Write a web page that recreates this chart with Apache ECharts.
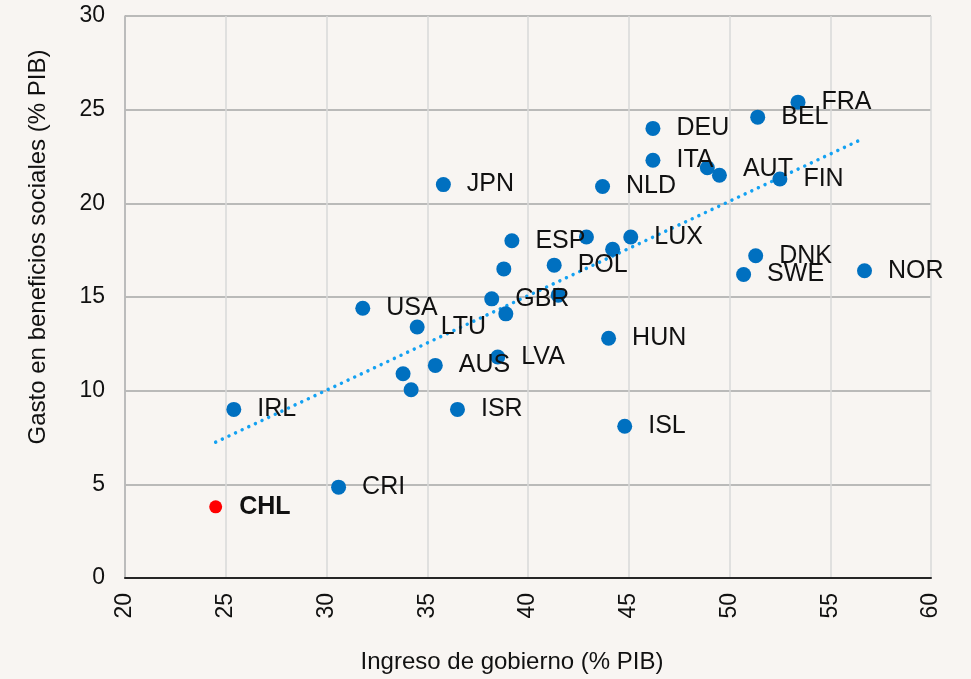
<!DOCTYPE html>
<html>
<head>
<meta charset="utf-8">
<script src="https://cdn.jsdelivr.net/npm/echarts@6/dist/echarts.min.js"></script>
<style>
  html, body { margin: 0; padding: 0; background: #f8f5f2; }
  #chart { width: 971px; height: 679px; }
</style>
</head>
<body>
<div id="chart"></div>
<script>
// países OCDE (los sin etiqueta van con nombre vacío)
var paises = ['FRA', 'BEL', 'DEU', 'ITA', 'AUT', 'FIN', 'NLD', 'JPN', 'ESP', 'LUX', 'POL', 'DNK',
  'SWE', 'NOR', 'GBR', 'USA', 'LTU', 'HUN', 'AUS', 'LVA', 'IRL', 'ISR', 'ISL', 'CRI',
  '', '', '', '', '', '', '', ''];
var ingreso = [53.4, 51.4, 46.2, 46.2, 49.5, 52.5, 43.7, 35.8, 39.2, 45.1, 41.3, 51.3,
  50.7, 56.7, 38.2, 31.8, 34.5, 44.0, 35.4, 38.5, 25.4, 36.5, 44.8, 30.6,
  33.8, 34.2, 38.8, 38.9, 41.5, 42.9, 44.2, 48.9];
var gasto = [25.4, 24.6, 24.0, 22.3, 21.5, 21.3, 20.9, 21.0, 18.0, 18.2, 16.7, 17.2,
  16.2, 16.4, 14.9, 14.4, 13.4, 12.8, 11.35, 11.8, 9.0, 9.0, 8.1, 4.85,
  10.9, 10.05, 16.5, 14.1, 15.1, 18.2, 17.55, 21.9];

// Chile
var chile = { nombre: 'CHL', ingreso: 24.5, gasto: 3.8 };

// tendencia lineal
var tendenciaX = [24.5, 56.6];
var tendenciaY = [7.25, 23.44];

var xTicks = [20, 25, 30, 35, 40, 45, 50, 55, 60];
var yTicks = [0, 5, 10, 15, 20, 25, 30];

var fuente = 'Liberation Sans, Arial, sans-serif';

var puntos = paises.map(function (p, i) {
  var d = { name: p, value: [ingreso[i], gasto[i]] };
  if (p === 'AUT') d.label = { offset: [0, -6] };
  return d;
});

var chart = echarts.init(document.getElementById('chart'));
chart.setOption({
  backgroundColor: '#f8f5f2',
  animation: false,
  grid: { left: 125, right: 40, top: 16, bottom: 100 },
  xAxis: {
    type: 'value',
    min: xTicks[0],
    max: xTicks[xTicks.length - 1],
    interval: 5,
    name: 'Ingreso de gobierno (% PIB)',
    nameLocation: 'middle',
    nameGap: 72,
    nameTextStyle: { fontFamily: fuente, fontSize: 24, color: '#111', padding: [0, 32, 0, 0] },
    axisLine: { lineStyle: { color: '#262626', width: 2 } },
    axisTick: { show: false },
    axisLabel: { rotate: 90, margin: 15, fontFamily: fuente, fontSize: 23, color: '#111' },
    splitLine: { lineStyle: { color: '#d9d9d9', width: 1.5 } }
  },
  yAxis: {
    type: 'value',
    min: yTicks[0],
    max: yTicks[yTicks.length - 1],
    interval: 5,
    name: 'Gasto en beneficios sociales (% PIB)',
    nameLocation: 'middle',
    nameGap: 75,
    nameTextStyle: { fontFamily: fuente, fontSize: 24, color: '#111', padding: [0, 0, 0, 100] },
    axisLine: { show: true, lineStyle: { color: '#b0b0b0', width: 1.5 } },
    axisTick: { show: false },
    axisLabel: { margin: 20, fontFamily: fuente, fontSize: 23, color: '#111', padding: [4, 0, 0, 0] },
    splitLine: { lineStyle: { color: '#a6a6a6', width: 1.5 } }
  },
  series: [
    {
      type: 'line',
      data: tendenciaX.map(function (x, i) { return [x, tendenciaY[i]]; }),
      showSymbol: false,
      silent: true,
      lineStyle: { color: '#13a1f2', width: 3.5, type: [0.01, 7.3], cap: 'round' },
      z: 1
    },
    {
      type: 'scatter',
      data: puntos,
      symbolSize: 15,
      itemStyle: { color: '#0070c0', opacity: 1 },
      label: {
        show: true,
        position: 'right',
        distance: 16,
        formatter: '{b}',
        fontFamily: fuente,
        fontSize: 25,
        color: '#111'
      },
      z: 2
    },
    {
      type: 'scatter',
      data: [{ name: chile.nombre, value: [chile.ingreso, chile.gasto] }],
      symbolSize: 13,
      itemStyle: { color: '#ff0000', opacity: 1 },
      label: {
        show: true,
        position: 'right',
        distance: 17,
        formatter: '{b}',
        fontFamily: fuente,
        fontSize: 25,
        fontWeight: 'bold',
        color: '#111'
      },
      z: 2
    }
  ]
});
</script>
</body>
</html>
